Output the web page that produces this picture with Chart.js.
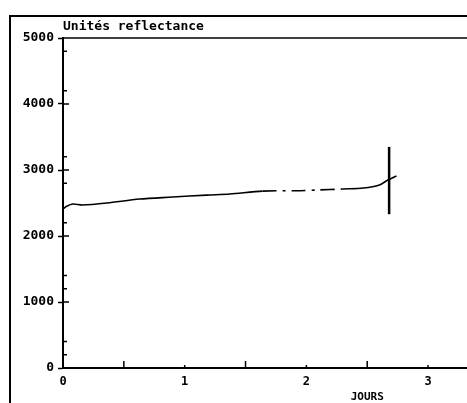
<!DOCTYPE html>
<html>
<head>
<meta charset="utf-8">
<script src="https://cdn.jsdelivr.net/npm/chart.js@4.4.1/dist/chart.umd.min.js"></script>
<style>
  html, body { margin: 0; padding: 0; background: #fff; overflow: hidden; }
  canvas { display: block; }
</style>
</head>
<body>
<canvas id="chart" width="467" height="403"></canvas>
<script>
// jours / unités reflectance
const jours = [0, 0.03, 0.08, 0.16, 0.36, 0.63, 0.90, 1.18, 1.37, 1.64, 1.95, 2.09, 2.30, 2.47, 2.60, 2.67, 2.74];
const reflectance = [2410, 2450, 2485, 2470, 2500, 2560, 2590, 2620, 2636, 2680, 2686, 2697, 2712, 2727, 2773, 2848, 2909];

// barre verticale
const barreJour = 2.68;
const barreMin = 2330;
const barreMax = 3350;

const yTicks = [0, 1000, 2000, 3000, 4000, 5000];
const yMinorTicks = [200, 400, 1200, 1400, 2200, 2800, 3200, 4200, 4800];
const xTicks = [0, 1, 2, 3];
const xMinorTicks = [0.5, 1.5, 2.5];

const titre = 'Unités reflectance';
const titreX = 'JOURS';

const police = "'DejaVu Sans Mono', monospace";

// cadre extérieur (haut + gauche)
const cadre = {
    id: 'cadre',
    beforeDraw(chart) {
        const ctx = chart.ctx;
        ctx.save();
        ctx.strokeStyle = '#000';
        ctx.lineWidth = 2;
        ctx.beginPath();
        ctx.moveTo(chart.width, 16);
        ctx.lineTo(10, 16);
        ctx.lineTo(10, chart.height);
        ctx.stroke();
        ctx.restore();
    }
};

// graduations vers l'intérieur, ligne du haut, titres
const innerTicks = {
    id: 'innerTicks',
    afterDraw(chart) {
        const ctx = chart.ctx;
        const x = chart.scales.x, y = chart.scales.y;
        const { left, right, top, bottom } = chart.chartArea;
        ctx.save();
        ctx.strokeStyle = '#000';
        ctx.lineWidth = 1.5;
        ctx.beginPath();
        ctx.moveTo(left, top); ctx.lineTo(right, top);
        yTicks.forEach(v => { const py = y.getPixelForValue(v); ctx.moveTo(left, py); ctx.lineTo(left + 6, py); });
        yMinorTicks.forEach(v => { const py = y.getPixelForValue(v); ctx.moveTo(left, py); ctx.lineTo(left + 4, py); });
        xMinorTicks.forEach(v => { const px = x.getPixelForValue(v); ctx.moveTo(px, bottom); ctx.lineTo(px, bottom - 7); });
        xTicks.slice(1).forEach(v => { const px = x.getPixelForValue(v); ctx.moveTo(px, bottom); ctx.lineTo(px, bottom - 3); });
        ctx.stroke();
        ctx.fillStyle = '#000';
        ctx.textBaseline = 'middle';
        ctx.font = "bold 13px " + police;
        ctx.textAlign = 'left';
        ctx.fillText(titre, left, top - 11);
        ctx.font = "bold 11px " + police;
        ctx.textAlign = 'center';
        ctx.fillText(titreX, x.getPixelForValue(2.5), bottom + 29);
        ctx.restore();
    }
};

const ctx = document.getElementById('chart').getContext('2d');
new Chart(ctx, {
    type: 'line',
    data: {
        datasets: [{
            data: jours.map((j, i) => ({ x: j, y: reflectance[i] })),
            borderColor: '#000',
            borderWidth: 1.6,
            tension: 0.3,
            pointRadius: 0,
            segment: {
                borderDash: c => (c.p0.parsed.x >= 1.6 && c.p1.parsed.x <= 2.31) ? [14, 6, 3, 6] : undefined
            }
        }, {
            data: [{ x: barreJour, y: barreMin }, { x: barreJour, y: barreMax }],
            borderColor: '#000',
            borderWidth: 2.5,
            pointRadius: 0
        }]
    },
    options: {
        responsive: false,
        animation: false,
        layout: { padding: { top: 38, left: 0, right: 0, bottom: 0 } },
        plugins: {
            legend: { display: false },
            tooltip: { enabled: false },
            title: { display: false }
        },
        scales: {
            x: {
                type: 'linear',
                min: 0,
                max: 3.32,
                afterFit: s => { s.height = 35; },
                ticks: {
                    stepSize: 1,
                    includeBounds: false,
                    color: '#000',
                    padding: 7,
                    maxRotation: 0,
                    font: { family: police, size: 12, weight: 'bold' }
                },
                grid: { drawOnChartArea: false, drawTicks: false },
                border: { display: true, color: '#000', width: 2 }
            },
            y: {
                min: 0,
                max: 5000,
                afterFit: s => { s.width = 63; },
                ticks: {
                    stepSize: 1000,
                    color: '#000',
                    padding: 4,
                    callback: v => String(v),
                    font: { family: police, size: 13, weight: 'bold' }
                },
                grid: { drawOnChartArea: false, tickLength: 5, tickColor: '#000', tickWidth: 1.5 },
                border: { display: true, color: '#000', width: 2 }
            }
        }
    },
    plugins: [cadre, innerTicks]
});
</script>
</body>
</html>
